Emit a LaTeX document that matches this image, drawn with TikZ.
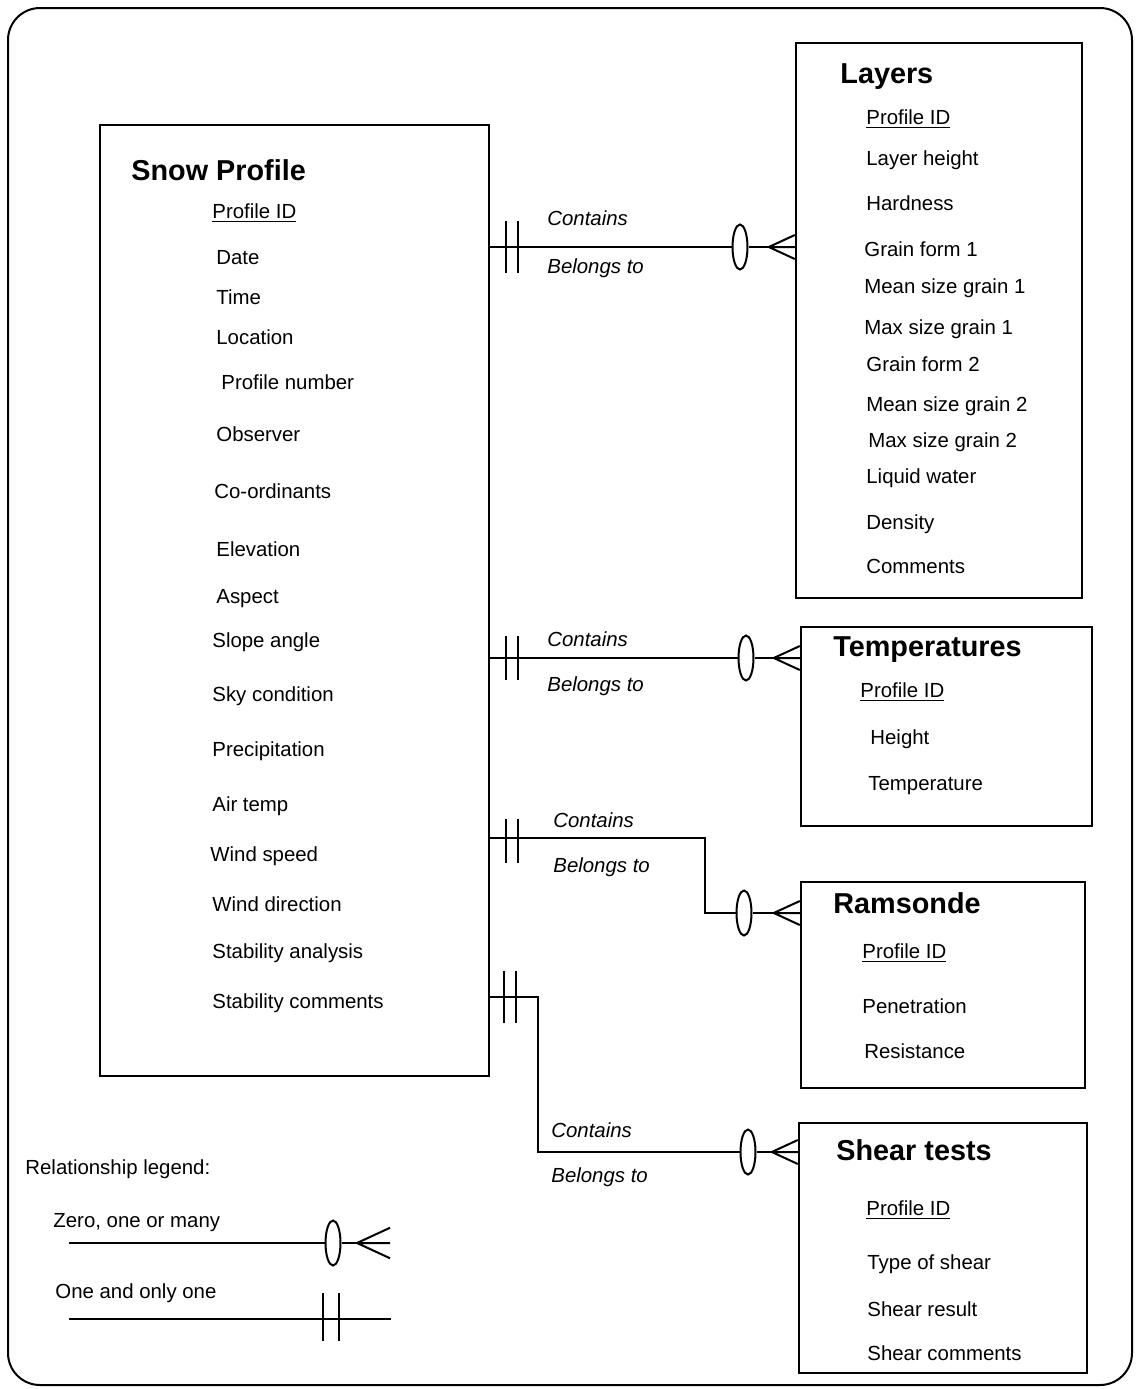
\documentclass[tikz,border=0pt]{standalone}
\usepackage{fontspec}
\setmainfont{Liberation Sans}
\usetikzlibrary{calc,positioning,shapes.geometric}
\tikzset{
  ent/.style   = {draw, line width=1.2pt, inner sep=0pt},
  frame/.style = {draw, line width=1pt, rounded corners=16pt},
  wire/.style  = {line width=1pt},
  title/.style = {anchor=base west, inner sep=0pt, font=\bfseries\fontsize{14.4}{17}\selectfont},
  item/.style  = {anchor=base west, inner sep=0pt, font=\fontsize{10.2}{12}\selectfont},
  role/.style  = {item, font=\itshape\fontsize{10.2}{12}\selectfont},
  oval/.style  = {draw, ellipse, line width=1pt, fill=white, inner sep=0pt,
                  minimum width=7.5pt, minimum height=22.5pt},
  onlyone/.pic = {\draw[wire] (-6,-22) -- (-6,22) (6,-22) -- (6,22);},
  crow/.pic    = {\draw[wire] (0,0) -- (26,-12) (0,0) -- (26,0) (0,0) -- (26,12);},
}

\begin{document}
\begin{tikzpicture}[x=0.5pt,y=-0.5pt]
  \useasboundingbox (0,0) rectangle (1139,1389);
  \draw[frame] (8,8) rectangle (1132,1385);

  % entities
  \node[ent, minimum width=194.5pt, minimum height=475.5pt] (sp)  at (294.5,600.5) {};
  \node[ent, minimum width=143pt,   minimum height=277.5pt] (lay) at (939,320.5) {};
  \node[ent, minimum width=145.5pt, minimum height=99.5pt]  (tmp) at (946.5,726.5) {};
  \node[ent, minimum width=142pt,   minimum height=103pt]   (ram) at (943,985) {};
  \node[ent, minimum width=144pt,   minimum height=125pt]   (shr) at (943,1248) {};

  % snow profile
  \node[title] (sp-t) at (131,180) {Snow Profile};
  \node[item] (sp-id) at (212,218) {\underline{Profile ID}};
  \foreach \x/\y/\t [count=\i] in {216/264/Date, 216/304/Time, 216/344/Location,
      221/389/Profile number, 216/441/Observer, 214/498/Co-ordinants,
      216/556/Elevation, 216/603/Aspect, 212/647/Slope angle, 212/701/Sky condition,
      212/756/Precipitation, 212/811/Air temp, 210/861/Wind speed,
      212/911/Wind direction, 212/958/Stability analysis, 212/1008/Stability comments}
    \node[item] (sp-\i) at (\x,\y) {\t};

  % layers
  \node[title] (lay-t) at (840,83) {Layers};
  \node[item] (lay-id) at (866,124) {\underline{Profile ID}};
  \foreach \x/\y/\t [count=\i] in {866/165/Layer height, 866/210/Hardness,
      864/256/Grain form 1, 864/293/Mean size grain 1, 864/334/Max size grain 1,
      866/371/Grain form 2, 866/411/Mean size grain 2, 868/447/Max size grain 2,
      866/483/Liquid water, 866/529/Density, 866/573/Comments}
    \node[item] (lay-\i) at (\x,\y) {\t};

  % temperatures
  \node[title] (tmp-t) at (833,656) {Temperatures};
  \node[item] (tmp-id) at (860,697) {\underline{Profile ID}};
  \node[item] (tmp-1) at (870,744) {Height};
  \node[item] (tmp-2) at (868,790) {Temperature};

  % ramsonde
  \node[title] (ram-t) at (833,913) {Ramsonde};
  \node[item] (ram-id) at (862,958) {\underline{Profile ID}};
  \node[item] (ram-1) at (862,1013) {Penetration};
  \node[item] (ram-2) at (864,1058) {Resistance};

  % shear tests
  \node[title] (shr-t) at (836,1160) {Shear tests};
  \node[item] (shr-id) at (866,1215) {\underline{Profile ID}};
  \node[item] (shr-1) at (867,1269) {Type of shear};
  \node[item] (shr-2) at (867,1316) {Shear result};
  \node[item] (shr-3) at (867,1360) {Shear comments};

  % relationships
  \node[oval] (o1) at (740,247) {};
  \draw[wire] (sp.east |- o1) -- (o1) -- (lay.west |- o1);
  \pic[yscale=1.2] at ($(sp.east |- o1)+(22,0)$) {onlyone};
  \pic at ($(lay.west |- o1)+(-26,0)$) {crow};
  \node[role] (c1) at (547,225) {Contains};
  \node[role] (b1) at (547,273) {Belongs to};

  \node[oval] (o2) at (746,658) {};
  \draw[wire] (sp.east |- o2) -- (o2) -- (tmp.west |- o2);
  \pic at ($(sp.east |- o2)+(22,0)$) {onlyone};
  \pic at ($(tmp.west |- o2)+(-26,0)$) {crow};
  \node[role] (c2) at (547,646) {Contains};
  \node[role] (b2) at (547,691) {Belongs to};

  \node[oval] (o3) at (744,913) {};
  \coordinate (k3) at (705,838);
  \draw[wire] (sp.east |- k3) -- (k3) |- (o3) -- (ram.west |- o3);
  \pic at ($(sp.east |- k3)+(22,3)$) {onlyone};
  \pic at ($(ram.west |- o3)+(-26,0)$) {crow};
  \node[role] (c3) at (553,827) {Contains};
  \node[role] (b3) at (553,872) {Belongs to};

  \node[oval] (o4) at (748,1152) {};
  \coordinate (k4) at (538,997);
  \draw[wire] (sp.east |- k4) -- (k4) |- (o4) -- (shr.west |- o4);
  \pic[yscale=1.2] at ($(sp.east |- k4)+(20,0)$) {onlyone};
  \pic at ($(shr.west |- o4)+(-26,0)$) {crow};
  \node[role] (c4) at (551,1137) {Contains};
  \node[role] (b4) at (551,1182) {Belongs to};

  % legend
  \node[item] (leg) at (25,1174) {Relationship legend:};
  \node[item] (leg-1) at (53,1227) {Zero, one or many};
  \coordinate (z0) at (69,1243);
  \coordinate (z1) at (390,1243);
  \node[oval] (zo) at (333,1243) {};
  \draw[wire] (z0) -- (zo) -- (z1);
  \pic[scale=1.27] at (357,1243) {crow};
  \node[item] (leg-2) at (55,1298) {One and only one};
  \coordinate (n0) at (69,1319);
  \coordinate (n1) at (391,1319);
  \draw[wire] (n0) -- (n1);
  \pic[xscale=1.33,yscale=1.1] at (331,1317) {onlyone};
\end{tikzpicture}
\end{document}
